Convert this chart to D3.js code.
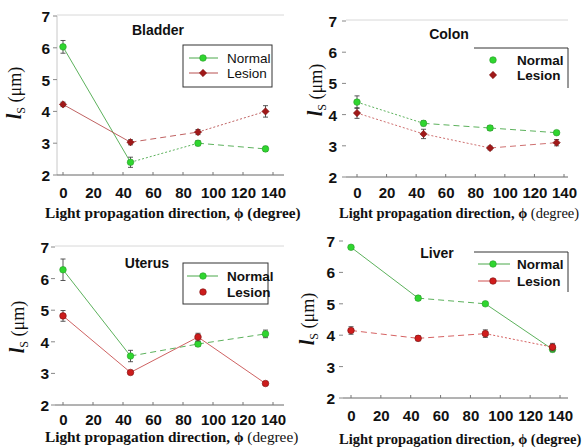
<!DOCTYPE html>
<html><head><meta charset="utf-8">
<script src="https://cdn.jsdelivr.net/npm/d3@7"></script>
<style>html,body{margin:0;padding:0;background:#fff;}svg{display:block;}</style>
</head><body>
<svg id="c" width="582" height="448"></svg>
<script>
// ---------- data ----------
const angles = [0, 45, 90, 135];
const xTickValues = [0, 20, 40, 60, 80, 100, 120, 140];
const yTickValues = [2, 3, 4, 5, 6, 7];
const seriesNames = ["Normal", "Lesion"];
const panelTitles = ["Bladder", "Colon", "Uterus", "Liver"];

const bladderNormal = [6.03, 2.40, 3.00, 2.82];
const bladderNormalErr = [0.20, 0.16, 0.08, 0.08];
const bladderLesion = [4.22, 3.03, 3.35, 4.00];
const bladderLesionErr = [0.07, 0.08, 0.08, 0.18];

const colonNormal = [4.40, 3.72, 3.57, 3.42];
const colonNormalErr = [0.20, 0.08, 0.08, 0.06];
const colonLesion = [4.05, 3.38, 2.93, 3.10];
const colonLesionErr = [0.17, 0.15, 0.06, 0.10];

const uterusNormal = [6.28, 3.55, 3.93, 4.25];
const uterusNormalErr = [0.34, 0.18, 0.08, 0.12];
const uterusLesion = [4.82, 3.03, 4.15, 2.68];
const uterusLesionErr = [0.17, 0.04, 0.12, 0.04];

const liverNormal = [6.80, 5.18, 5.00, 3.55];
const liverNormalErr = [0.05, 0.07, 0.05, 0.08];
const liverLesion = [4.15, 3.90, 4.05, 3.62];
const liverLesionErr = [0.12, 0.08, 0.12, 0.12];

const panelData = {
  Bladder: [bladderNormal, bladderNormalErr, bladderLesion, bladderLesionErr],
  Colon:   [colonNormal, colonNormalErr, colonLesion, colonLesionErr],
  Uterus:  [uterusNormal, uterusNormalErr, uterusLesion, uterusLesionErr],
  Liver:   [liverNormal, liverNormalErr, liverLesion, liverLesionErr]
};

// ---------- layout / style ----------
const S = "solid", DOT = "2,2", DASH = "6,4";
const layout = {
  Bladder: {x0:63, x1:273, yTop:16, yBot:175, axL:57, axR:284, leftLine:true, topLine:true,
    yLabX:15, yLabY:93, titleX:158, titleY:30, xLabY:193, xTitleX:45, xTitleY:213, xTitleSize:15.3, degBold:true,
    yTickLabX:50,
    legend:{box:[183,45,272,87], lineX:[189,218], mX:203, rows:[58,73], tX:227, legendLines:[true,true], bold:false},
    lesionMarker:"diamond", lesionFill:"#a01818", lesionLine:"#b85050",
    styles:[[S,DOT,DASH],[S,DASH,DOT]]},
  Colon: {x0:357, x1:564, yTop:21, yBot:177, axL:346, axR:568, leftLine:false, topLine:true,
    yLabX:316, yLabY:90, titleX:449, titleY:34, xLabY:193, xTitleX:339, xTitleY:213, xTitleSize:14.5, degBold:false,
    yTickLabX:337,
    legend:{top:[474,568,48], right:[568,48,88], lineX:null, mX:493, rows:[60,75], tX:517, legendLines:[false,false], bold:true},
    lesionMarker:"diamond", lesionFill:"#a01818", lesionLine:"#c86060",
    styles:[[DOT,DASH,DASH],[DOT,DOT,DASH]]},
  Uterus: {x0:63, x1:273, yTop:247, yBot:405, axL:55, axR:284, leftLine:false, topLine:true,
    yLabX:18, yLabY:327, titleX:147, titleY:263, xLabY:420, xTitleX:45, xTitleY:437, xTitleSize:15.3, degBold:false,
    yTickLabX:49,
    legend:{box:[183,263,268,304], lineX:[187,218], mX:203, rows:[276,292], tX:227, legendLines:[true,false], bold:true},
    lesionMarker:"circle", lesionFill:"#cc1c1c", lesionLine:"#c85050",
    styles:[[S,DASH,DASH],[S,S,S]]},
  Liver: {x0:351, x1:560, yTop:241, yBot:398, axL:343, axR:568, leftLine:false, topLine:false,
    yLabX:308, yLabY:319, titleX:437, titleY:253, xLabY:416, xTitleX:339, xTitleY:439, xTitleSize:14.5, degBold:true,
    yTickLabX:335,
    legend:{top:[474,568,252], right:[568,252,292], lineX:[478,510], mX:493, rows:[264,281], tX:517, legendLines:[true,true], bold:true},
    lesionMarker:"circle", lesionFill:"#d01c1c", lesionLine:"#d05050",
    styles:[[S,DASH,S],[DASH,DASH,DOT]]}
};
const greenFill = "#2fd62f", greenStroke = "#2a9a2a", greenLine = "#4aa84a";

const svg = d3.select("#c");
const sans = "'Liberation Sans', Arial, sans-serif";
const serif = "'Liberation Serif', 'Times New Roman', serif";

function marker(g, type, x, y, fill, stroke) {
  if (type === "circle") {
    g.append("circle").attr("cx", x).attr("cy", y).attr("r", 3.3)
      .attr("fill", fill).attr("stroke", stroke).attr("stroke-width", 0.6);
  } else {
    g.append("path").attr("d", d3.symbol().type(d3.symbolDiamond2).size(34)())
      .attr("transform", `translate(${x},${y})`)
      .attr("fill", fill).attr("stroke", stroke).attr("stroke-width", 0.6);
  }
}

panelTitles.forEach(name => {
  const L = layout[name];
  const [nv, ne, lv, le] = panelData[name];
  const g = svg.append("g");
  const x = d3.scaleLinear().domain([0, 140]).range([L.x0, L.x1]);
  const y = d3.scaleLinear().domain([2, 7]).range([L.yBot, L.yTop]);

  // frame lines
  if (L.topLine) g.append("line").attr("x1", L.axL).attr("x2", L.axR).attr("y1", L.yTop - 1).attr("y2", L.yTop - 1)
    .attr("stroke", "#d8d8d8").attr("stroke-width", 1);
  if (L.leftLine) g.append("line").attr("x1", L.axL).attr("x2", L.axL).attr("y1", L.yTop).attr("y2", L.yBot)
    .attr("stroke", "#c8c8c8").attr("stroke-width", 1);

  // x axis
  const xAxis = d3.axisBottom(x).tickValues(xTickValues).tickSize(0).tickFormat(d3.format("d"));
  const xa = g.append("g").attr("transform", `translate(0,${L.yBot})`).call(xAxis);
  xa.select(".domain").remove();
  xa.selectAll("text").attr("y", L.xLabY - L.yBot).attr("dy", "0.35em")
    .attr("font-family", sans).attr("font-weight", "bold").attr("font-size", 15).attr("fill", "#111");
  g.append("line").attr("x1", L.axL).attr("x2", L.axR).attr("y1", L.yBot).attr("y2", L.yBot)
    .attr("stroke", "#666").attr("stroke-width", 1);
  g.selectAll(".xt").data(xTickValues).enter().append("line")
    .attr("x1", d => x(d)).attr("x2", d => x(d)).attr("y1", L.yBot).attr("y2", L.yBot - 3)
    .attr("stroke", "#777").attr("stroke-width", 1);

  // y axis
  const yAxis = d3.axisLeft(y).tickValues(yTickValues).tickSize(0).tickFormat(d3.format("d"));
  const ya = g.append("g").attr("transform", `translate(${L.yTickLabX},0)`).call(yAxis);
  ya.select(".domain").remove();
  ya.selectAll("text").attr("x", 0).attr("text-anchor", "end").attr("dy", "0.36em")
    .attr("font-family", sans).attr("font-weight", "bold").attr("font-size", 15.5).attr("fill", "#111");
  g.selectAll(".yt").data(yTickValues).enter().append("line")
    .attr("x1", L.axL - 4).attr("x2", L.axL).attr("y1", d => y(d)).attr("y2", d => y(d))
    .attr("stroke", "#888").attr("stroke-width", 1);

  // y label
  const yl = g.append("text").attr("transform", `translate(${L.yLabX},${L.yLabY}) rotate(-90)`)
    .attr("text-anchor", "middle").attr("dy", "0.35em")
    .attr("font-family", serif).attr("font-size", 18).attr("font-weight", "bold").attr("fill", "#111");
  yl.append("tspan").attr("font-style", "italic").attr("font-size", 20).text("l");
  yl.append("tspan").attr("font-size", 12).attr("dy", 4).attr("font-weight", "normal").text("S");
  yl.append("tspan").attr("dy", -4).attr("font-weight", "normal").text(" (μm)");

  // x title
  const xt = g.append("text").attr("x", L.xTitleX).attr("y", L.xTitleY).attr("dy", "0.35em")
    .attr("font-family", serif).attr("font-size", L.xTitleSize).attr("fill", "#111");
  xt.append("tspan").attr("font-weight", "bold").text("Light propagation direction, ϕ ");
  xt.append("tspan").attr("font-weight", L.degBold ? "bold" : "normal").text("(degree)");

  // title
  g.append("text").attr("x", L.titleX).attr("y", L.titleY).attr("dy", "0.35em").attr("text-anchor", "middle")
    .attr("font-family", sans).attr("font-weight", "bold").attr("font-size", 14).attr("fill", "#111").text(name);

  // series
  const series = [
    {vals: nv, errs: ne, line: greenLine, fill: greenFill, stroke: greenStroke, mk: "circle", styles: L.styles[0]},
    {vals: lv, errs: le, line: L.lesionLine, fill: L.lesionFill, stroke: "#7a1010", mk: L.lesionMarker, styles: L.styles[1]}
  ];
  series.forEach(s => {
    for (let i = 0; i < angles.length - 1; i++) {
      g.append("line").attr("x1", x(angles[i])).attr("y1", y(s.vals[i]))
        .attr("x2", x(angles[i + 1])).attr("y2", y(s.vals[i + 1]))
        .attr("stroke", s.line).attr("stroke-width", 0.9)
        .attr("stroke-dasharray", s.styles[i] === S ? null : s.styles[i]);
    }
  });
  series.forEach(s => {
    angles.forEach((a, i) => {
      const cx = x(a), y1 = y(s.vals[i] + s.errs[i]), y2 = y(s.vals[i] - s.errs[i]);
      g.append("line").attr("x1", cx).attr("x2", cx).attr("y1", y1).attr("y2", y2).attr("stroke", "#444").attr("stroke-width", 0.9);
      g.append("line").attr("x1", cx - 2.5).attr("x2", cx + 2.5).attr("y1", y1).attr("y2", y1).attr("stroke", "#444").attr("stroke-width", 0.9);
      g.append("line").attr("x1", cx - 2.5).attr("x2", cx + 2.5).attr("y1", y2).attr("y2", y2).attr("stroke", "#444").attr("stroke-width", 0.9);
    });
    angles.forEach((a, i) => marker(g, s.mk, x(a), y(s.vals[i]), s.fill, s.stroke));
  });

  // legend
  const lg = L.legend;
  if (lg.box) {
    g.append("rect").attr("x", lg.box[0]).attr("y", lg.box[1]).attr("width", lg.box[2] - lg.box[0]).attr("height", lg.box[3] - lg.box[1])
      .attr("fill", "#fff").attr("stroke", "#333").attr("stroke-width", 1);
  }
  if (lg.top) g.append("line").attr("x1", lg.top[0]).attr("x2", lg.top[1]).attr("y1", lg.top[2]).attr("y2", lg.top[2]).attr("stroke", "#333");
  if (lg.right) g.append("line").attr("x1", lg.right[0]).attr("x2", lg.right[0]).attr("y1", lg.right[1]).attr("y2", lg.right[2]).attr("stroke", "#333");
  series.forEach((s, k) => {
    const ry = lg.rows[k];
    if (lg.legendLines[k] && lg.lineX) {
      g.append("line").attr("x1", lg.lineX[0]).attr("x2", lg.lineX[1]).attr("y1", ry).attr("y2", ry)
        .attr("stroke", s.line).attr("stroke-width", 1);
    }
    marker(g, s.mk, lg.mX, ry, s.fill, s.stroke);
    g.append("text").attr("x", lg.tX).attr("y", ry).attr("dy", "0.35em")
      .attr("font-family", sans).attr("font-size", 13.5).attr("font-weight", lg.bold ? "bold" : "normal")
      .attr("fill", "#111").text(seriesNames[k]);
  });
});
</script>
</body></html>
